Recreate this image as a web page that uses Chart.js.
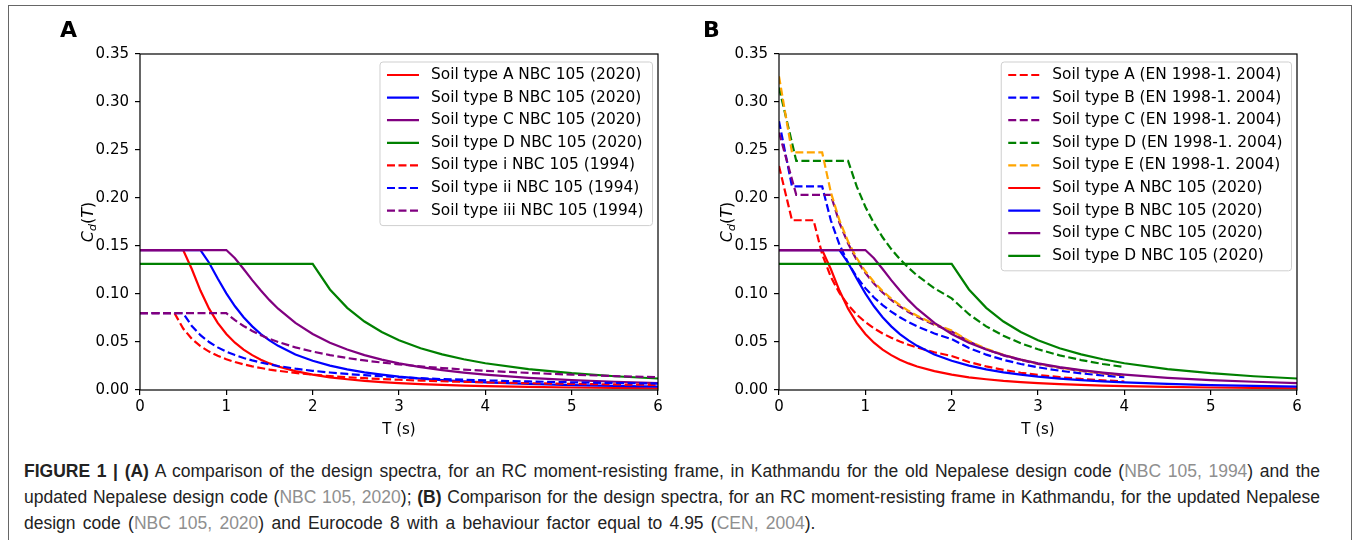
<!DOCTYPE html>
<html>
<head>
<meta charset="utf-8">
<script src="https://cdn.jsdelivr.net/npm/chart.js@4.4.1/dist/chart.umd.min.js"></script>
<style>
  html, body { margin: 0; padding: 0; background: #fff; }
  body { width: 1356px; height: 540px; position: relative; overflow: hidden; }
  #frame { position: absolute; left: 8px; top: 5px; width: 1344px; height: 560px; border: 1.5px solid #666; box-sizing: border-box; }
  canvas { position: absolute; top: 0; }
  #chartA { left: 0; }
  #chartB { left: 639px; }
  .panel { position: absolute; top: 17px; font: bold 22px "DejaVu Sans"; color: #000; }
  .ytitle { position: absolute; top: 222px; font: 16px "DejaVu Sans"; color: #000;
            transform: translate(-50%, -50%) rotate(-90deg); white-space: nowrap; }
  .ytitle i { font-style: italic; }
  .ytitle sub { font-size: 11px; font-style: italic; vertical-align: -3px; }
  #caption { position: absolute; left: 24px; top: 458px; width: 1296px; font: 17.5px "Liberation Sans", Arial, sans-serif;
             line-height: 26px; color: #222; }
  #caption .just { text-align: justify; text-align-last: justify; }
  #caption .last { white-space: nowrap; word-spacing: 2.4px; }
  #caption .ref { color: #8f8f8f; }
</style>
</head>
<body>
<div id="frame"></div>
<canvas id="chartA" width="680" height="445"></canvas>
<canvas id="chartB" width="680" height="445"></canvas>
<div class="panel" style="left:60px">A</div>
<div class="panel" style="left:703px">B</div>
<div class="ytitle" style="left:88px"><i>C</i><sub>d</sub>(<i>T</i>)</div>
<div class="ytitle" style="left:727px"><i>C</i><sub>d</sub>(<i>T</i>)</div>
<div id="caption">
<div class="just"><b>FIGURE 1 | (A)</b> A comparison of the design spectra, for an RC moment-resisting frame, in Kathmandu for the old Nepalese design code (<span class="ref">NBC 105, 1994</span>) and the</div>
<div class="just">updated Nepalese design code (<span class="ref">NBC 105, 2020</span>); <b>(B)</b> Comparison for the design spectra, for an RC moment-resisting frame in Kathmandu, for the updated Nepalese</div>
<div class="last">design code (<span class="ref">NBC 105, 2020</span>) and Eurocode 8 with a behaviour factor equal to 4.95 (<span class="ref">CEN, 2004</span>).</div>
</div>
<script>
// period T (s)
var periods = [0, 0.1, 0.15, 0.2, 0.3, 0.4, 0.5, 0.6, 0.7, 0.8, 0.9, 1.0, 1.1, 1.2, 1.3, 1.4, 1.5, 1.6, 1.8, 2.0,
               2.2, 2.4, 2.6, 2.8, 3.0, 3.25, 3.5, 3.75, 4.0, 4.5, 5.0, 5.5, 6.0];

// NBC 105 (2020)
var nbc2020A = [0.1458, 0.1458, 0.1458, 0.1458, 0.1458, 0.1458, 0.1458, 0.1260, 0.1036, 0.0847, 0.0699, 0.0583, 0.0493, 0.0421, 0.0363, 0.0316, 0.0277, 0.0245, 0.0196, 0.0160,
                0.0132, 0.0112, 0.0095, 0.0083, 0.0072, 0.0061, 0.0053, 0.0046, 0.0041, 0.0032, 0.0026, 0.0022, 0.0018];
var nbc2020B = [0.1458, 0.1458, 0.1458, 0.1458, 0.1458, 0.1458, 0.1458, 0.1458, 0.1458, 0.1326, 0.1161, 0.1006, 0.0872, 0.0758, 0.0663, 0.0583, 0.0516, 0.0460, 0.0370, 0.0304,
                0.0254, 0.0215, 0.0184, 0.0160, 0.0139, 0.0119, 0.0103, 0.0090, 0.0079, 0.0063, 0.0051, 0.0042, 0.0036];
var nbc2020C = [0.1458, 0.1458, 0.1458, 0.1458, 0.1458, 0.1458, 0.1458, 0.1458, 0.1458, 0.1458, 0.1458, 0.1458, 0.1373, 0.1260, 0.1145, 0.1036, 0.0936, 0.0847, 0.0699, 0.0583,
                0.0493, 0.0421, 0.0363, 0.0316, 0.0277, 0.0238, 0.0207, 0.0181, 0.0160, 0.0127, 0.0103, 0.0086, 0.0072];
var nbc2020D = [0.1313, 0.1313, 0.1313, 0.1313, 0.1313, 0.1313, 0.1313, 0.1313, 0.1313, 0.1313, 0.1313, 0.1313, 0.1313, 0.1313, 0.1313, 0.1313, 0.1313, 0.1313, 0.1313, 0.1313,
                0.1047, 0.0856, 0.0713, 0.0604, 0.0519, 0.0435, 0.0371, 0.0320, 0.0279, 0.0218, 0.0175, 0.0143, 0.0120];

// NBC 105 (1994)
var nbc1994i   = [0.08, 0.08, 0.08, 0.08, 0.08, 0.08, 0.0640, 0.0533, 0.0457, 0.0400, 0.0356, 0.0320, 0.0291, 0.0267, 0.0246, 0.0229, 0.0213, 0.0200, 0.0178, 0.0160,
                  0.0145, 0.0133, 0.0123, 0.0114, 0.0107, 0.0098, 0.0091, 0.0085, 0.0080, 0.0071, 0.0064, 0.0058, 0.0053];
var nbc1994ii  = [0.08, 0.08, 0.08, 0.08, 0.08, 0.08, 0.08, 0.0667, 0.0571, 0.0500, 0.0444, 0.0400, 0.0364, 0.0333, 0.0308, 0.0286, 0.0267, 0.0250, 0.0222, 0.0200,
                  0.0182, 0.0167, 0.0154, 0.0143, 0.0133, 0.0123, 0.0114, 0.0107, 0.0100, 0.0089, 0.0080, 0.0073, 0.0067];
var nbc1994iii = [0.08, 0.08, 0.08, 0.08, 0.08, 0.08, 0.08, 0.08, 0.08, 0.08, 0.08, 0.08, 0.0727, 0.0667, 0.0615, 0.0571, 0.0533, 0.0500, 0.0444, 0.0400,
                  0.0364, 0.0333, 0.0308, 0.0286, 0.0267, 0.0246, 0.0229, 0.0213, 0.0200, 0.0178, 0.0160, 0.0145, 0.0133];

// EN 1998-1 (2004), plotted up to T = 4 s
var ec8A = [0.2333, 0.1957, 0.1768, 0.1768, 0.1768, 0.1768, 0.1414, 0.1178, 0.1010, 0.0884, 0.0786, 0.0707, 0.0643, 0.0589, 0.0544, 0.0505, 0.0471, 0.0442, 0.0393, 0.0354,
            0.0292, 0.0246, 0.0209, 0.0180, 0.0157, 0.0134, 0.0115, 0.0101, 0.0088, null, null, null, null];
var ec8B = [0.2800, 0.2347, 0.2121, 0.2121, 0.2121, 0.2121, 0.2121, 0.1768, 0.1515, 0.1326, 0.1178, 0.1061, 0.0964, 0.0884, 0.0816, 0.0758, 0.0707, 0.0663, 0.0589, 0.0530,
            0.0438, 0.0368, 0.0314, 0.0271, 0.0236, 0.0201, 0.0173, 0.0151, 0.0133, null, null, null, null];
var ec8C = [0.2683, 0.2358, 0.2196, 0.2033, 0.2033, 0.2033, 0.2033, 0.2033, 0.1742, 0.1525, 0.1355, 0.1220, 0.1109, 0.1016, 0.0938, 0.0871, 0.0813, 0.0762, 0.0678, 0.0610,
            0.0504, 0.0424, 0.0361, 0.0311, 0.0271, 0.0231, 0.0199, 0.0173, 0.0152, null, null, null, null];
var ec8D = [0.3150, 0.2768, 0.2577, 0.2386, 0.2386, 0.2386, 0.2386, 0.2386, 0.2386, 0.2386, 0.2121, 0.1909, 0.1735, 0.1591, 0.1468, 0.1363, 0.1273, 0.1193, 0.1060, 0.0954,
            0.0789, 0.0663, 0.0565, 0.0487, 0.0424, 0.0361, 0.0312, 0.0271, 0.0239, null, null, null, null];
var ec8E = [0.3267, 0.2739, 0.2475, 0.2475, 0.2475, 0.2475, 0.2475, 0.2062, 0.1768, 0.1547, 0.1375, 0.1237, 0.1125, 0.1031, 0.0952, 0.0884, 0.0825, 0.0773, 0.0687, 0.0619,
            0.0511, 0.0430, 0.0366, 0.0316, 0.0275, 0.0234, 0.0202, 0.0176, 0.0155, null, null, null, null];

var xTicks = [0, 1, 2, 3, 4, 5, 6];
var yTicks = [0, 0.05, 0.10, 0.15, 0.20, 0.25, 0.30, 0.35];

Chart.defaults.font.family = 'DejaVu Sans';
Chart.defaults.font.size = 15;
Chart.defaults.color = '#000';

function series(label, vals, color, dashed) {
    return {
        label: label,
        data: periods.map(function (t, i) { return { x: t, y: vals[i] }; }),
        borderColor: color,
        borderWidth: 2.2,
        borderDash: dashed ? [8, 3.5] : [],
        pointRadius: 0,
        tension: 0,
        fill: false
    };
}

// spines on all four sides plus a matplotlib-like legend box
var frameAndLegend = {
    id: 'frameAndLegend',
    afterDatasetsDraw: function (chart) {
        var ctx = chart.ctx, a = chart.chartArea, sets = chart.data.datasets;
        ctx.save();
        ctx.strokeStyle = '#000';
        ctx.lineWidth = 1.2;
        ctx.strokeRect(a.left, a.top, a.right - a.left, a.bottom - a.top);

        ctx.font = '15.4px "DejaVu Sans"';
        var tw = 0;
        sets.forEach(function (d) { tw = Math.max(tw, ctx.measureText(d.label).width); });
        var rowH = 22.6;
        var w = 51 + tw + 9, h = 13 + (sets.length - 1) * rowH + 15;
        var x = a.right - 5.5 - w, y = a.top + 8;
        ctx.beginPath();
        if (ctx.roundRect) ctx.roundRect(x, y, w, h, 3); else ctx.rect(x, y, w, h);
        ctx.fillStyle = 'rgba(255,255,255,0.85)';
        ctx.fill();
        ctx.strokeStyle = '#cfcfcf';
        ctx.lineWidth = 1;
        ctx.stroke();
        sets.forEach(function (d, i) {
            var cy = y + 13 + i * rowH;
            ctx.beginPath();
            ctx.setLineDash(d.borderDash);
            ctx.strokeStyle = d.borderColor;
            ctx.lineWidth = d.borderWidth;
            ctx.moveTo(x + 7, cy);
            ctx.lineTo(x + 39, cy);
            ctx.stroke();
            ctx.setLineDash([]);
            ctx.fillStyle = '#000';
            ctx.textBaseline = 'middle';
            ctx.fillText(d.label, x + 51, cy);
        });
        ctx.restore();
    }
};

function makeChart(id, datasets) {
    var n = datasets.length;
    datasets.forEach(function (d, i) { d.order = n - i; });   // later series on top
    return new Chart(document.getElementById(id), {
        type: 'line',
        data: { datasets: datasets },
        plugins: [frameAndLegend],
        options: {
            responsive: false,
            animation: false,
            events: [],
            layout: { padding: { left: 80, right: 22, top: 54, bottom: 5 } },
            plugins: { legend: { display: false }, tooltip: { enabled: false } },
            scales: {
                x: {
                    type: 'linear', min: 0, max: 6,
                    afterFit: function (s) { s.height = 50; },
                    afterBuildTicks: function (s) { s.ticks = xTicks.map(function (v) { return { value: v }; }); },
                    ticks: { padding: 3, callback: function (v) { return String(v); } },
                    grid: { display: true, drawOnChartArea: false, drawTicks: true, tickLength: 5, color: '#000', lineWidth: 1.2 },
                    border: { display: false },
                    title: { display: true, text: 'T (s)', font: { size: 15 }, padding: { top: 0, bottom: 1 } }
                },
                y: {
                    type: 'linear', min: 0, max: 0.35,
                    afterFit: function (s) { s.width = 60; },
                    afterBuildTicks: function (s) { s.ticks = yTicks.map(function (v) { return { value: v }; }); },
                    ticks: { padding: 6, callback: function (v) { return v.toFixed(2); } },
                    grid: { display: true, drawOnChartArea: false, drawTicks: true, tickLength: 5, color: '#000', lineWidth: 1.2 },
                    border: { display: false }
                }
            }
        }
    });
}

makeChart('chartA', [
    series('Soil type A NBC 105 (2020)', nbc2020A, '#ff0000', false),
    series('Soil type B NBC 105 (2020)', nbc2020B, '#0000ff', false),
    series('Soil type C NBC 105 (2020)', nbc2020C, '#800080', false),
    series('Soil type D NBC 105 (2020)', nbc2020D, '#008000', false),
    series('Soil type i NBC 105 (1994)', nbc1994i, '#ff0000', true),
    series('Soil type ii NBC 105 (1994)', nbc1994ii, '#0000ff', true),
    series('Soil type iii NBC 105 (1994)', nbc1994iii, '#800080', true)
]);

makeChart('chartB', [
    series('Soil type A (EN 1998-1. 2004)', ec8A, '#ff0000', true),
    series('Soil type B (EN 1998-1. 2004)', ec8B, '#0000ff', true),
    series('Soil type C (EN 1998-1. 2004)', ec8C, '#800080', true),
    series('Soil type D (EN 1998-1. 2004)', ec8D, '#008000', true),
    series('Soil type E (EN 1998-1. 2004)', ec8E, '#ffa500', true),
    series('Soil type A NBC 105 (2020)', nbc2020A, '#ff0000', false),
    series('Soil type B NBC 105 (2020)', nbc2020B, '#0000ff', false),
    series('Soil type C NBC 105 (2020)', nbc2020C, '#800080', false),
    series('Soil type D NBC 105 (2020)', nbc2020D, '#008000', false)
]);
</script>
</body>
</html>
